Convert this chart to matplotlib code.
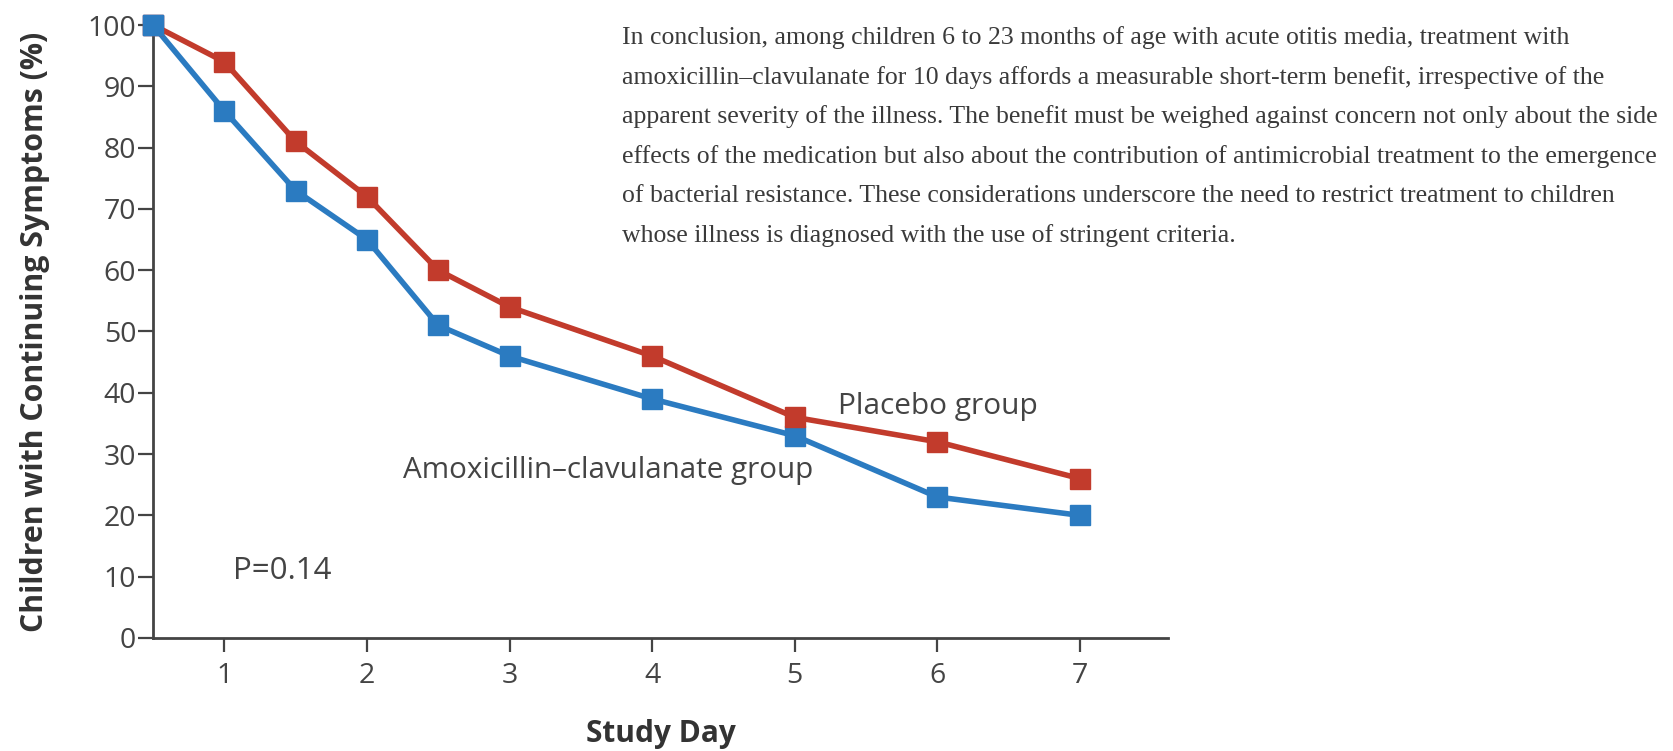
import matplotlib
matplotlib.use('Agg')
import matplotlib.pyplot as plt

# study days and % of children with continuing symptoms
days = [0.5, 1, 1.5, 2, 2.5, 3, 4, 5, 6, 7]
placebo = [100, 94, 81, 72, 60, 54, 46, 36, 32, 26]
amox = [100, 86, 73, 65, 51, 46, 39, 33, 23, 20]

x_ticks = [1, 2, 3, 4, 5, 6, 7]
y_ticks = [0, 10, 20, 30, 40, 50, 60, 70, 80, 90, 100]

conclusion = [
    'In conclusion, among children 6 to 23 months of age with acute otitis media, treatment with',
    'amoxicillin\u2013clavulanate for 10 days affords a measurable short-term benefit, irrespective of the',
    'apparent severity of the illness. The benefit must be weighed against concern not only about the side',
    'effects of the medication but also about the contribution of antimicrobial treatment to the emergence',
    'of bacterial resistance. These considerations underscore the need to restrict treatment to children',
    'whose illness is diagnosed with the use of stringent criteria.',
]

red = '#C23B2C'
blue = '#2B7BC1'
grey = '#444444'

plt.rcParams['font.family'] = ['Open Sans', 'DejaVu Sans']

fig = plt.figure(figsize=(16.74, 7.51), dpi=100)
ax = fig.add_axes([0.0914, 0.1505, 0.6066, 0.8162])

ax.plot(days, amox, color=blue, lw=4, marker='s', ms=14, clip_on=False, zorder=3)
ax.plot(days, placebo, color=red, lw=4, marker='s', ms=14, clip_on=False, zorder=4)
# starting point shows the blue square on top
ax.plot(days[:1], amox[:1], color=blue, marker='s', ms=14, ls='none', clip_on=False, zorder=5)

ax.set_xlim(0.5, 7.62)
ax.set_ylim(0, 100)
ax.set_xticks(x_ticks)
ax.set_yticks(y_ticks)

for s in ['top', 'right']:
    ax.spines[s].set_visible(False)
for s in ['left', 'bottom']:
    ax.spines[s].set_color(grey)
    ax.spines[s].set_linewidth(2)

ax.tick_params(axis='both', colors=grey, width=1.6, labelsize=20.5)
ax.tick_params(axis='x', length=10, pad=7)
ax.tick_params(axis='y', length=11, pad=1)

ax.set_ylabel('Children with Continuing Symptoms (%)', fontsize=21.8,
              fontweight='bold', color='#333333')
ax.yaxis.set_label_coords(-0.101, 0.5)
ax.set_xlabel('Study Day', fontsize=21.5, fontweight='bold', color='#333333')
ax.xaxis.set_label_coords(0.5, -0.132)

ax.text(1.06, 10.9, 'P=0.14', fontsize=22.5, color=grey, va='center', ha='left')
ax.text(2.25, 27.4, 'Amoxicillin\u2013clavulanate group', fontsize=21.3, color=grey,
        va='center', ha='left')
ax.text(5.30, 37.8, 'Placebo group', fontsize=21.5, color=grey, va='center', ha='left')

# text block on the right
y0 = 1 - 38 / 751
for i, line in enumerate(conclusion):
    fig.text(622 / 1674, y0 - i * 39.5 / 751, line, fontsize=18.5,
             family='Liberation Serif', color='#3a3a3a', va='center', ha='left')

plt.savefig('out.png', dpi=100)
